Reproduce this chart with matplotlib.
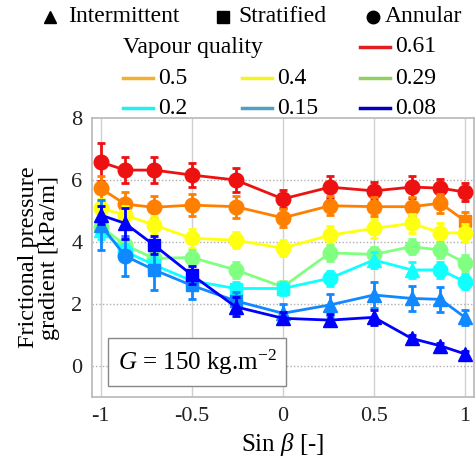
import matplotlib
matplotlib.use("Agg")
import matplotlib.pyplot as plt
from matplotlib.lines import Line2D
import numpy as np

plt.rcParams['font.family'] = ['Liberation Serif', 'DejaVu Serif']
plt.rcParams['mathtext.fontset'] = 'custom'
plt.rcParams['mathtext.rm'] = 'Liberation Serif'
plt.rcParams['mathtext.it'] = 'Liberation Serif:italic'

# ---------------- data ----------------
sin_beta = [-1, -0.866, -0.707, -0.5, -0.259, 0, 0.259, 0.5, 0.707, 0.866, 1]

qualities = ['0.61', '0.5', '0.4', '0.29', '0.2', '0.15', '0.08']

dp_061 = [6.58, 6.32, 6.32, 6.16, 6.00, 5.39, 5.77, 5.65, 5.77, 5.74, 5.61]
dp_050 = [5.73, 5.22, 5.12, 5.19, 5.14, 4.78, 5.17, 5.14, 5.14, 5.25, 4.68]
dp_040 = [5.09, 4.87, 4.55, 4.12, 4.06, 3.80, 4.22, 4.44, 4.60, 4.30, 4.29]
dp_029 = [4.50, 3.90, 3.47, 3.50, 3.10, 2.55, 3.65, 3.60, 3.85, 3.74, 3.33]
dp_020 = [4.40, 3.70, 3.26, 2.75, 2.50, 2.50, 2.83, 3.42, 3.10, 3.10, 2.72]
dp_015 = [4.55, 3.55, 3.10, 2.60, 2.10, 1.70, 1.97, 2.29, 2.18, 2.15, 1.57]
dp_008 = [4.87, 4.60, 3.90, 2.94, 1.91, 1.54, 1.48, 1.57, 0.89, 0.65, 0.39]

err_061 = [0.60, 0.42, 0.42, 0.40, 0.40, 0.30, 0.35, 0.30, 0.35, 0.30, 0.30]
err_050 = [0.40, 0.40, 0.35, 0.35, 0.35, 0.30, 0.30, 0.30, 0.30, 0.30, 0.30]
err_040 = [0.30, 0.30, 0.30, 0.30, 0.25, 0.25, 0.30, 0.30, 0.30, 0.30, 0.30]
err_029 = [0.30, 0.25, 0.25, 0.25, 0.25, 0.20, 0.25, 0.25, 0.25, 0.25, 0.25]
err_020 = [0.30, 0.25, 0.25, 0.25, 0.20, 0.20, 0.25, 0.25, 0.25, 0.25, 0.25]
err_015 = [0.80, 0.65, 0.65, 0.45, 0.30, 0.30, 0.35, 0.43, 0.40, 0.40, 0.25]
err_008 = [0.30, 0.50, 0.30, 0.30, 0.30, 0.20, 0.20, 0.25, 0.12, 0.10, 0.08]

# flow regimes: I = intermittent, S = stratified, A = annular
reg_061 = ['A'] * 11
reg_050 = ['A'] * 10 + ['S']
reg_040 = ['A'] * 11
reg_029 = ['A', 'A', 'A', 'A', 'A', 'S', 'A', 'A', 'A', 'A', 'A']
reg_020 = ['I', 'A', 'S', 'S', 'S', 'S', 'A', 'I', 'I', 'A', 'A']
reg_015 = ['I', 'A', 'S', 'S', 'S', 'I', 'I', 'I', 'I', 'I', 'I']
reg_008 = ['I', 'I', 'S', 'S', 'I', 'I', 'I', 'I', 'I', 'I', 'I']

regime_names = ['Intermittent', 'Stratified', 'Annular']

series = [dp_061, dp_050, dp_040, dp_029, dp_020, dp_015, dp_008]
errors = [err_061, err_050, err_040, err_029, err_020, err_015, err_008]
regimes = [reg_061, reg_050, reg_040, reg_029, reg_020, reg_015, reg_008]

data_colors = ['#ee1111', '#ff8000', '#ffff10', '#80ff80', '#10ffff', '#1088ff', '#0000ff']
legend_colors = ['#e02020', '#f0b030', '#f4f420', '#90d060', '#20f0f0', '#50a0c0', '#0000c0']
marker_of = {'I': '^', 'S': 's', 'A': 'o'}
msize_of = {'I': 10, 'S': 9, 'A': 10.5}

# ---------------- figure ----------------
W, H = 475, 459
fig = plt.figure(figsize=(W / 100, H / 100), dpi=100)
ax = fig.add_axes([92 / W, (H - 397) / H, (474 - 92) / W, (397 - 118) / H])

x = np.array(sin_beta)
for k in range(len(series)):
    y = np.array(series[k])
    e = np.array(errors[k])
    c = data_colors[k]
    z = 3 + k
    ax.errorbar(x, y, yerr=e, color=c, lw=2.0, elinewidth=2.0, capsize=3.2,
                capthick=2.0, zorder=z)
    for r in ['A', 'S', 'I']:
        idx = [i for i, rr in enumerate(regimes[k]) if rr == r]
        if idx:
            ax.plot(x[idx], y[idx], ls='none', marker=marker_of[r],
                    ms=msize_of[r], color=c, mec=c, zorder=z + 0.5)

ax.set_xlim(-1.048, 1.05)
ax.set_ylim(-1, 8)
ax.set_xticks([-1, -0.5, 0, 0.5, 1])
ax.set_xticklabels(['-1', '-0.5', '0', '0.5', '1'])
ax.set_yticks([0, 2, 4, 6, 8])
ax.tick_params(labelsize=16, length=0, pad=7, colors='#222222')
for sp in ax.spines.values():
    sp.set_color('#b8b8b8')
    sp.set_linewidth(1.2)
for xv in [-1, -0.5, 0, 0.5, 1]:
    ax.axvline(xv, color='#d0d0d0', lw=1.0, zorder=0)
for yv in [0, 2, 4, 6]:
    ax.axhline(yv, color='#b0b0b0', lw=1.0, ls=(0, (1, 1.5)), zorder=0)

ax.set_xlabel(r'Sin $\mathit{\beta}$ [-]', fontsize=18, labelpad=4)
ax.set_ylabel('Frictional pressure\ngradient [kPa/m]', fontsize=17.5,
              labelpad=8, linespacing=1.0)

ax.text(0.068, 0.125, r'$G$ = 150 kg.m$^{-2}$', transform=ax.transAxes,
        fontsize=18, va='center', ha='left', zorder=20,
        bbox=dict(boxstyle='square,pad=0.38', fc='white', ec='#888888', lw=1.0))

# ---------------- legends (figure pixel layout) ----------------
def fx(px):
    return px / W

def fy(py):
    return 1 - py / H

leg_fs = 17
# regime row
reg_pos = [(50, 68), (223, 238), (373, 385)]
for (mx, tx), name, code in zip(reg_pos, regime_names, ['I', 'S', 'A']):
    fig.add_artist(Line2D([fx(mx)], [fy(17)], marker=marker_of[code], ms=9,
                          color='black', ls='none', transform=fig.transFigure))
    fig.text(fx(tx), fy(17), name, fontsize=leg_fs, va='center', ha='left')

fig.text(fx(123), fy(47), 'Vapour quality', fontsize=leg_fs, va='center', ha='left')
slots = [(360, 47), (123, 78), (242, 78), (360, 78), (123, 108), (242, 108), (360, 108)]
for (sx, sy), lab, lc in zip(slots, qualities, legend_colors):
    fig.add_artist(Line2D([fx(sx), fx(sx + 30)], [fy(sy), fy(sy)], color=lc,
                          lw=2.5, transform=fig.transFigure))
    fig.text(fx(sx + 35), fy(sy), lab, fontsize=leg_fs, va='center', ha='left')

fig.savefig('out.png', dpi=100)
